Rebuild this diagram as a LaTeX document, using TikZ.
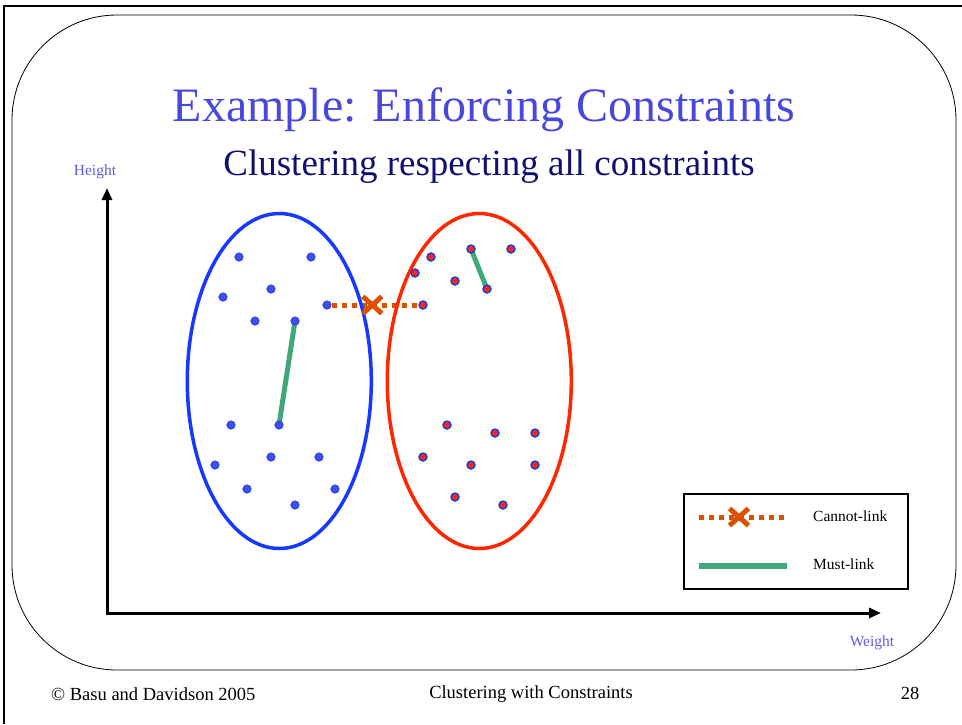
\documentclass[tikz,border=0pt]{standalone}
\usepackage{fontspec}
\setmainfont{Liberation Serif}
\usetikzlibrary{arrows.meta,shapes.misc,backgrounds}

\definecolor{titleblue}{RGB}{72,72,218}
\definecolor{subnavy}{RGB}{16,16,112}
\definecolor{axisblue}{RGB}{92,92,232}
\definecolor{clusblue}{RGB}{22,56,255}
\definecolor{clusred}{RGB}{255,38,0}
\definecolor{dotblue}{RGB}{66,78,226}
\definecolor{linkgreen}{RGB}{64,168,122}
\definecolor{linkorange}{RGB}{216,82,0}

\begin{document}
\begin{tikzpicture}[x=1pt,y=-1pt,
  bdot/.style={circle,fill=dotblue,draw=clusblue!70!dotblue,line width=0.6pt,inner sep=0pt,minimum size=8.5pt},
  rdot/.style={circle,fill=clusred,draw=clusblue,line width=1.4pt,inner sep=0pt,minimum size=8pt},
  mustlink/.style={linkgreen,line width=5pt},
  cannotlink/.style={linkorange,line width=5pt,dash pattern=on 5pt off 5pt},
  xmark/.style={cross out,draw=linkorange,line width=5pt,minimum width=14pt,minimum height=12pt,inner sep=0pt},
  axis/.style={line width=3pt,{Triangle[length=12pt,width=10pt]}-{Triangle[length=12pt,width=10pt]}},
  axlabel/.style={text=axisblue,font=\fontsize{15.5}{16}\selectfont,inner sep=0pt}]
\useasboundingbox (0,0) rectangle (962,724);

\draw [line width=2.5pt](4,724)--(4,6)--(962,6);
\draw [line width=0.8pt,rounded corners=105pt](12,15) rectangle (956,670);

\node [anchor=base,text=titleblue,font=\fontsize{48}{48}\selectfont] (title) at (484,121) {Example: Enforcing Constraints};
\node [anchor=base,text=subnavy,font=\fontsize{37}{37}\selectfont] (subtitle) at (489,175) {Clustering respecting all constraints};

\coordinate (ytop) at (107,188);
\coordinate (origin) at (107,613);
\coordinate (xend) at (881,613);
\draw [axis](ytop)--(origin)--(xend);
\node [axlabel] (height) at (95,172) {Height};
\node [axlabel] (weight) at (872,643) {Weight};

\draw [clusblue,line width=3.5pt](279.3,381) ellipse [x radius=92, y radius=167.5];
\draw [clusred,line width=3.5pt](479.3,381) ellipse [x radius=92, y radius=167.5];

\node [bdot] (b1) at (239,257) {};
\node [bdot] (b2) at (311,257) {};
\node [bdot] (b3) at (223,297) {};
\node [bdot] (b4) at (271,289) {};
\node [bdot] (b5) at (327,305) {};
\node [bdot] (b6) at (255,321) {};
\node [bdot] (b7) at (295,321) {};
\node [bdot] (b8) at (231,425) {};
\node [bdot] (b9) at (279,425) {};
\node [bdot] (b10) at (215,465) {};
\node [bdot] (b11) at (271,457) {};
\node [bdot] (b12) at (319,457) {};
\node [bdot] (b13) at (247,489) {};
\node [bdot] (b14) at (335,489) {};
\node [bdot] (b15) at (295,505) {};

\node [rdot] (r1) at (431,257) {};
\node [rdot] (r2) at (471,249) {};
\node [rdot] (r3) at (511,249) {};
\node [rdot] (r4) at (415,273) {};
\node [rdot] (r5) at (455,281) {};
\node [rdot] (r6) at (487,289) {};
\node [rdot] (r7) at (423,305) {};
\node [rdot] (r8) at (447,425) {};
\node [rdot] (r9) at (495,433) {};
\node [rdot] (r10) at (535,433) {};
\node [rdot] (r11) at (423,457) {};
\node [rdot] (r12) at (471,465) {};
\node [rdot] (r13) at (535,465) {};
\node [rdot] (r14) at (455,497) {};
\node [rdot] (r15) at (503,505) {};

\begin{scope}[on background layer]
\draw [mustlink](b7.center)--(b9.center);
\draw [mustlink](r2.center)--(r6.center);
\draw [cannotlink](b5)--(r7);
\end{scope}
\path (b5)--node[pos=0.47,xmark] (cx) {} (r7);

\node [draw,line width=1.3pt,minimum width=224pt,minimum height=95pt,inner sep=0pt] (legend) at (796,541.5) {};
\coordinate (cl-a) at (699,517);
\coordinate (cl-b) at (787,517);
\draw [cannotlink](cl-a)--(cl-b);
\node [xmark] (cl-x) at (739,517) {};
\coordinate (ml-a) at (699,566);
\coordinate (ml-b) at (787,566);
\draw [linkgreen,line width=6pt](ml-a)--(ml-b);
\node [anchor=west,font=\fontsize{15.5}{16}\selectfont,inner sep=0pt] (cl-text) at (813,516) {Cannot-link};
\node [anchor=west,font=\fontsize{15.5}{16}\selectfont,inner sep=0pt] (ml-text) at (813,564) {Must-link};

\node [anchor=west,font=\fontsize{18.5}{19}\selectfont,inner sep=0pt] (copy) at (51,694) {© Basu and Davidson 2005};
\node [font=\fontsize{18.5}{19}\selectfont,inner sep=0pt] (footer) at (531,694) {Clustering with Constraints};
\node [font=\fontsize{18.5}{19}\selectfont,inner sep=0pt] (page) at (910,693) {28};

\end{tikzpicture}
\end{document}
